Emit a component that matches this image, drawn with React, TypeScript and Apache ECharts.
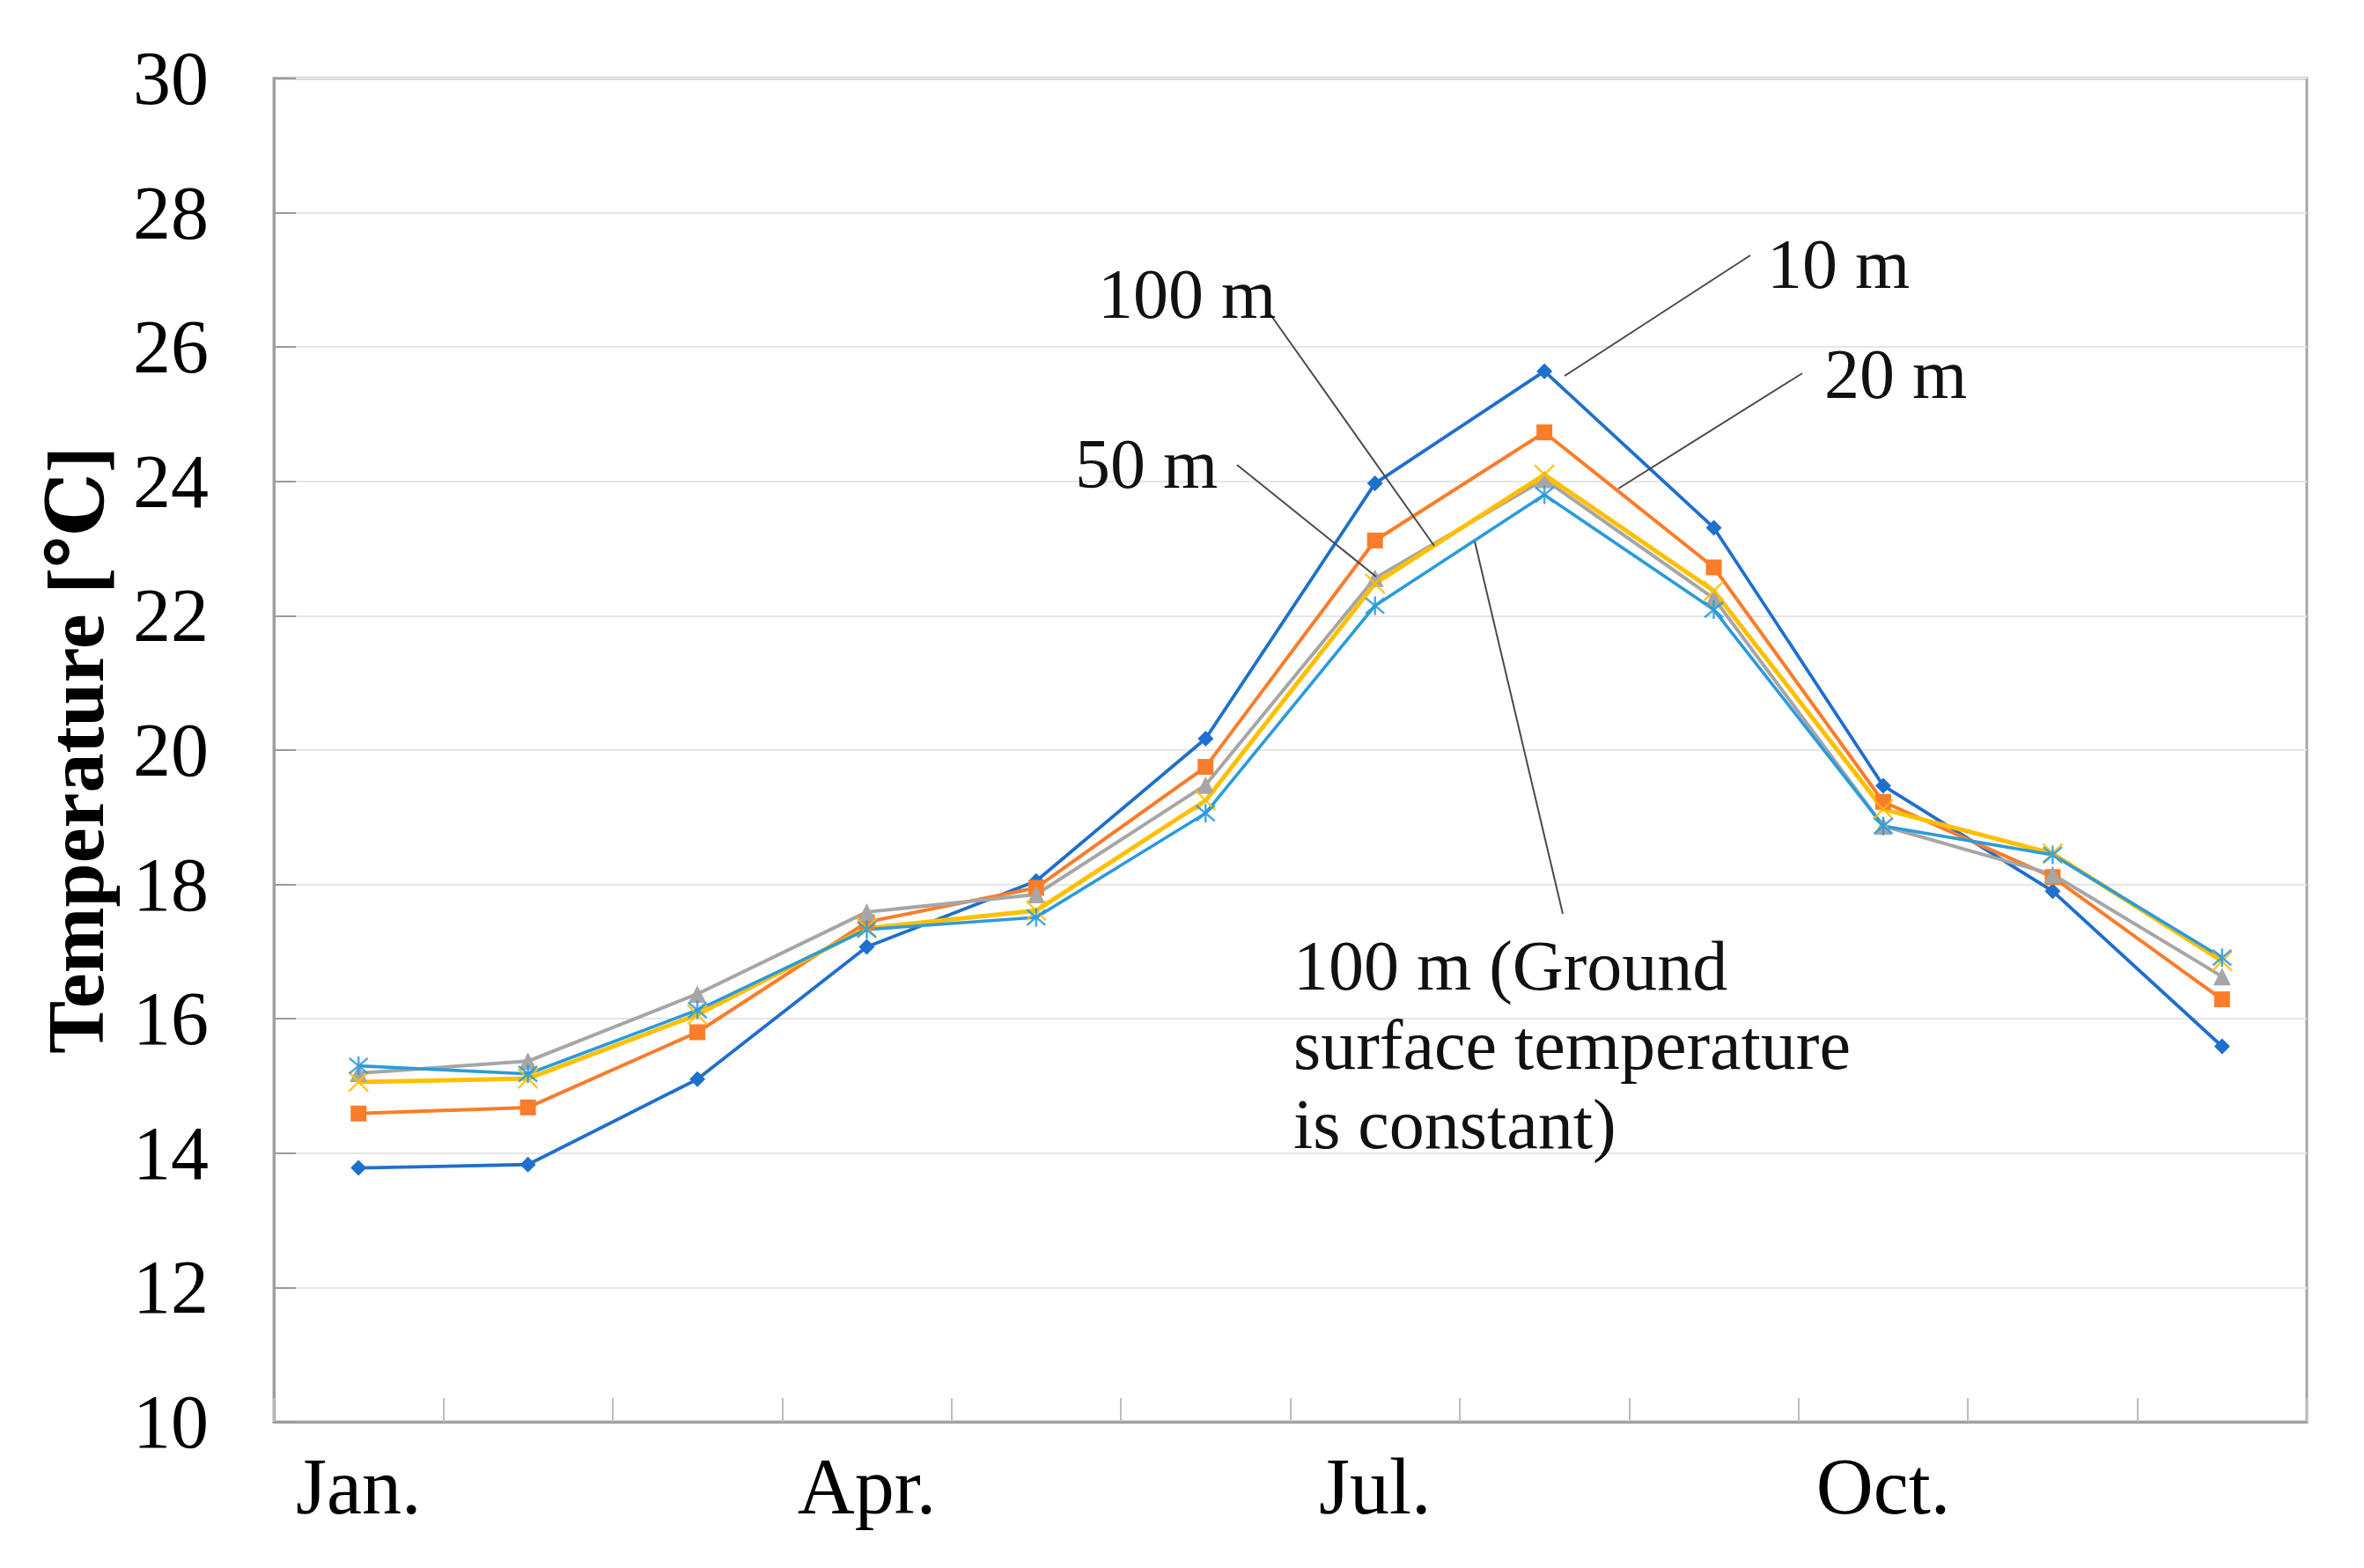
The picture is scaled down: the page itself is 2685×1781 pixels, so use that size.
import React, { useEffect, useRef } from "react";
import * as echarts from "echarts";

const months = ["Jan.", "Feb.", "Mar.", "Apr.", "May", "Jun.", "Jul.", "Aug.", "Sep.", "Oct.", "Nov.", "Dec."];
const yTicks = { min: 10, max: 30, interval: 2 };

const depth10 = [13.78, 13.83, 15.1, 17.07, 18.05, 20.17, 23.97, 25.64, 23.31, 19.47, 17.9, 15.59];
const depth20 = [14.59, 14.68, 15.8, 17.44, 17.95, 19.75, 23.12, 24.73, 22.72, 19.23, 18.11, 16.29];
const depth50 = [15.19, 15.37, 16.37, 17.59, 17.85, 19.48, 22.56, 24.03, 22.26, 18.87, 18.15, 16.63];
const depth100 = [15.06, 15.11, 16.06, 17.35, 17.61, 19.25, 22.48, 24.1, 22.37, 19.12, 18.46, 16.86];
const depth100Ground = [15.3, 15.18, 16.13, 17.33, 17.51, 19.06, 22.15, 23.8, 22.09, 18.87, 18.44, 16.91];

const seriesNames = ["10 m", "20 m", "50 m", "100 m", "100 m (Ground surface temperature is constant)"];

const SERIF = "'Liberation Serif', 'DejaVu Serif', serif";

export default function App() {
  const ref = useRef<HTMLDivElement>(null);

  useEffect(() => {
    document.body.style.margin = "0";
    const chart = echarts.init(ref.current!, null, { renderer: "svg" });

    const mk = (
      name: string,
      data: number[],
      color: string,
      width: number,
      symbol: string,
      size: number,
      stroked: boolean
    ) => ({
      name,
      type: "line",
      data,
      color,
      symbol,
      symbolSize: size,
      showSymbol: true,
      lineStyle: { color, width },
      itemStyle: stroked
        ? { color: "rgba(0,0,0,0)", borderColor: color, borderWidth: 2.5, opacity: 0.85 }
        : { color },
      emphasis: { disabled: true },
    });

    const leader = (x1: number, y1: number, x2: number, y2: number) => ({
      type: "line",
      shape: { x1, y1, x2, y2 },
      style: { stroke: "#4a4a4a", lineWidth: 2 },
      z: 10,
    });

    const label = (text: string, x: number, y: number) => ({
      type: "text",
      x,
      y,
      style: {
        text,
        fill: "#111",
        fontSize: 80,
        fontFamily: SERIF,
        verticalAlign: "middle",
        align: "left",
      },
      z: 11,
    });

    chart.setOption({
      animation: false,
      backgroundColor: "#ffffff",
      grid: {
        left: 311,
        right: 65,
        top: 89,
        bottom: 166,
        show: true,
        borderColor: "#a6a6a6",
        borderWidth: 3,
        containLabel: false,
      },
      xAxis: {
        type: "category",
        data: months,
        boundaryGap: true,
        axisLine: { show: true, lineStyle: { color: "#a0a0a0", width: 3 } },
        axisTick: {
          show: true,
          inside: true,
          length: 27,
          interval: 0,
          lineStyle: { color: "#bdbdbd", width: 2 },
        },
        axisLabel: {
          interval: 2,
          margin: 28,
          color: "#000",
          fontSize: 90,
          fontFamily: SERIF,
        },
        splitLine: { show: false },
      },
      yAxis: {
        type: "value",
        min: yTicks.min,
        max: yTicks.max,
        interval: yTicks.interval,
        axisLine: { show: true, lineStyle: { color: "#a0a0a0", width: 3 } },
        axisTick: {
          show: true,
          inside: true,
          length: 25,
          lineStyle: { color: "#9a9a9a", width: 2 },
        },
        axisLabel: {
          margin: 74,
          color: "#000",
          fontSize: 86,
          fontFamily: SERIF,
        },
        splitLine: { show: true, lineStyle: { color: "#e6e6e6", width: 2 } },
      },
      series: [
        mk(seriesNames[0], depth10, "#1f6fcd", 3.8, "diamond", 18, false),
        mk(seriesNames[1], depth20, "#fa7d2b", 4, "rect", 18, false),
        mk(seriesNames[2], depth50, "#a6a6a6", 4, "triangle", 20, false),
        mk(seriesNames[3], depth100, "#ffc000", 5, "path://M0,0 L10,10 M10,0 L0,10", 22, true),
        mk(seriesNames[4], depth100Ground, "#2a9bdc", 3.6, "path://M0,0 L10,10 M10,0 L0,10 M5,-1 L5,11", 21, true),
      ],
      graphic: [
        {
          type: "text",
          x: 86,
          y: 852,
          rotation: Math.PI / 2,
          style: {
            text: "Temperature [℃]",
            fill: "#000",
            fontSize: 90,
            fontWeight: "bold",
            fontFamily: SERIF,
            align: "center",
            verticalAlign: "middle",
          },
        },
        leader(1988, 290, 1777, 427),
        leader(2047, 424, 1838, 555),
        leader(1442, 356, 1629, 620),
        leader(1405, 528, 1563, 655),
        leader(1775, 1038, 1675, 615),
        label("10 m", 2007, 300),
        label("20 m", 2072, 425),
        label("100 m", 1247, 334),
        label("50 m", 1221, 527),
        {
          type: "text",
          x: 1469,
          y: 1052,
          style: {
            text: "100 m (Ground\nsurface temperature\nis constant)",
            fill: "#111",
            fontSize: 80,
            lineHeight: 90,
            fontFamily: SERIF,
            verticalAlign: "top",
            align: "left",
          },
          z: 11,
        },
      ],
    });

    return () => chart.dispose();
  }, []);

  return (
    <div
      ref={ref}
      style={{ position: "fixed", left: 0, top: 0, width: 2685, height: 1781, background: "#fff" }}
    />
  );
}
